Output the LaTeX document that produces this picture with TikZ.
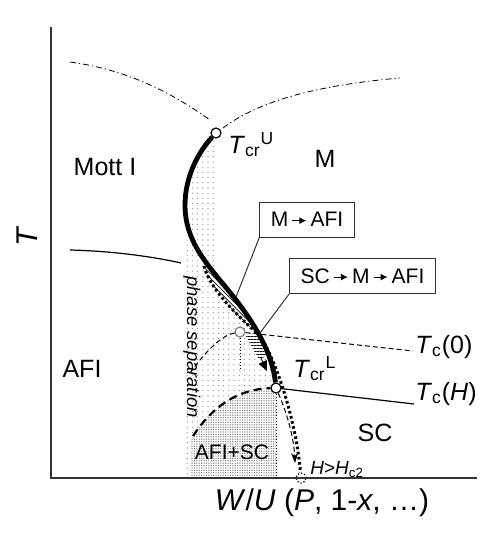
\documentclass[tikz,border=0pt]{standalone}
\usepackage{fontspec}
\setmainfont{Liberation Sans}
\usetikzlibrary{arrows.meta}
\usetikzlibrary{patterns.meta}
\newcommand{\smallarrow}{\,\tikz[baseline=-0.55ex]\draw[line width=0.6pt,-{Latex[length=3.5pt,width=3.5pt]}] (0pt,0pt) -- (7pt,0pt);\,}
\tikzset{
  crit/.style={circle, draw, fill=white, line width=0.6pt, inner sep=0pt, minimum size=5pt},
  crossover/.style={line width=2.4pt},
  crossover path/.style={
    insert path={(pU) .. controls (200,150) and (185,175) .. (185,205)
      .. controls (185,240) and (205,262) .. (228,290)
      .. controls (251,318) and (272,350) .. (pL)},
  },
  crossover dotted/.style={line width=1.5pt, dash pattern=on 1.3pt off 1.3pt},
  boundary/.style={line width=0.6pt},
  axis line/.style={draw=black!80, line width=0.6pt},
  dash dot/.style={line width=0.4pt, dash pattern=on 3pt off 1.5pt on 0.6pt off 1.5pt},
  tc dashed/.style={line width=0.5pt, dash pattern=on 2.5pt off 1.5pt},
  dome dashed/.style={line width=1.1pt, dash pattern=on 4pt off 2.5pt},
  guide/.style={line width=0.45pt, dash pattern=on 0.5pt off 1pt},
  sep dots/.style={pattern={Dots[distance=2.6pt, radius=0.3pt]}, pattern color=gray},
  mixed dots/.style={pattern={Dots[distance=1.2pt, radius=0.35pt]}, pattern color=gray},
  region/.style={font=\fontsize{12.5}{15}\selectfont},
  axis label/.style={font=\fontsize{15}{18}\selectfont},
  tc label/.style={font=\fontsize{12.5}{15}\selectfont, anchor=base west, inner sep=0pt},
  process/.style={draw=black!80, line width=0.5pt, font=\fontsize{10.5}{12}\selectfont,
    minimum height=17.5pt, inner xsep=5.5pt, inner ysep=0pt},
  pointer/.style={draw=black!80, line width=0.5pt},
}
\begin{document}
\begin{tikzpicture}[x=0.5pt, y=-0.5pt]
  \useasboundingbox (0,0) rectangle (479,552);

  % Key points
  \coordinate (pU) at (216,133);
  \coordinate (pL) at (276,388);
  \coordinate (origin) at (51,478);
  \coordinate (ytop) at (51,27);
  \coordinate (xend) at (477,478);

  % Phase separation and AFI+SC regions
  \begin{scope}
    \clip (150,120) rectangle (217,400);
    \path[sep dots, crossover path] -- (330,388) -- (330,120) -- cycle;
  \end{scope}
  \begin{scope}
    \clip (185,240) rectangle (300,478);
    \path[sep dots, crossover path] -- (276,478) -- (150,478) -- (150,120) -- cycle;
  \end{scope}
  \path[fill=white, postaction={mixed dots}]
    (190,478) -- (190,441) .. controls (212,404) and (240,388) .. (pL) -- (276,478) -- cycle;

  % Hatched paths along the crossover
  \path[fill=white, postaction={pattern={Lines[angle=-45, distance=1.6pt, line width=0.35pt]}}]
    (204,266) .. controls (210,290) and (240,318) .. (258,334)
    -- (253.6,325.6) -- (244.8,312) -- (228,290) -- (211.7,269.9) -- cycle;
  \path[fill=white, postaction={pattern={Lines[angle=0, distance=1.5pt, line width=0.35pt]}}]
    (246,336) -- (257,332) -- (266,356) -- (259,360) -- cycle;
  \draw[line width=0.4pt, -{Triangle[length=5pt, width=4.5pt]}] (261,358) -- (267,371);

  % Critical points
  \node[crit] (tcrU) at (pU) {};
  \node[crit] (tcrL) at (pL) {};
  \node[crit, draw=gray] (tcZero) at (240,332) {};
  \node[crit, densely dotted] (hc2) at (301,478) {};

  \coordinate (tc0end) at (413,351);
  \coordinate (tcHend) at (414,404);
  \coordinate (tcZeroFoot) at (240,370);
  \coordinate (hcArrow) at (295,463);

  % Axes
  \draw[axis line] (ytop) -- (origin) -- (xend);

  % Boundaries
  \draw[dash dot] (70,62) .. controls (130,70) and (175,95) .. (210,120);
  \draw[dash dot] (223,128) .. controls (260,100) and (320,85) .. (400,78);
  \draw[boundary] (70,250) .. controls (110,251) and (150,256) .. (181,263);
  \draw[tc dashed] (tcZero) -- (tc0end);
  \draw[boundary] (tcrL) -- (tcHend);
  \draw[tc dashed] (190,373) .. controls (205,352) and (222,335) .. (tcZero);
  \draw[dome dashed] (193,436) .. controls (214,404) and (240,389) .. (tcrL);
  \draw[guide] (tcrL) -- (tcrL |- origin);
  \draw[guide] (tcZero) -- (tcZeroFoot);
  \draw[crossover dotted] (204,266) .. controls (210,290) and (240,318) .. (258,334)
    .. controls (270,347) and (295,410) .. (hc2);
  \draw[tc dashed, -{Stealth[length=5pt, width=3.5pt]}]
    (tcrL) .. controls (288,415) and (294,440) .. (hcArrow);
  \draw[crossover] (tcrU) .. controls (200,150) and (185,175) .. (185,205)
    .. controls (185,240) and (205,262) .. (228,290)
    .. controls (251,318) and (272,350) .. (tcrL);

  % Labels
  \node[region] (mott) at (105,167) {Mott I};
  \node[region] (metal) at (325,159) {M};
  \node[region] (afi) at (82,369) {AFI};
  \node[region] (sc) at (375,433) {SC};
  \node[font=\fontsize{10.5}{12}\selectfont] (mixed) at (232,452) {AFI+SC};
  \node[font=\itshape\fontsize{9.2}{11}\selectfont, rotate=-90] (psep) at (192,347) {phase separation};
  \node[axis label, rotate=90] (tlab) at (27,236) {\textit{T}};
  \node[axis label, anchor=base] (xlab) at (322,510)
    {\textit{W}/\textit{U} (\textit{P}, 1-\textit{x}, …)};
  \node[tc label] (tcrUlab) at (228,153) {\textit{T}\textsubscript{cr}\textsuperscript{U}};
  \node[tc label] (tcrLlab) at (293,377) {\textit{T}\textsubscript{cr}\textsuperscript{L}};
  \node[tc label] (tc0lab) at (415,353) {\textit{T}\textsubscript{c}(0)};
  \node[tc label] (tcHlab) at (415,400) {\textit{T}\textsubscript{c}(\textit{H})};
  \node[tc label, font=\fontsize{9.5}{11}\selectfont] (hc2lab) at (310,474)
    {\textit{H}>\textit{H}\textsubscript{c2}};

  % Process boxes
  \node[process] (mafi) at (307,219.5) {M\smallarrow AFI};
  \node[process] (scmafi) at (362.5,276) {SC\smallarrow M\smallarrow AFI};
  \coordinate (mafiTip) at (236,297);
  \coordinate (scmafiTip) at (260,333);
  \draw[pointer] (mafi.south west) -- (mafiTip);
  \draw[pointer] (scmafi.south west) -- (scmafiTip);

\end{tikzpicture}
\end{document}
